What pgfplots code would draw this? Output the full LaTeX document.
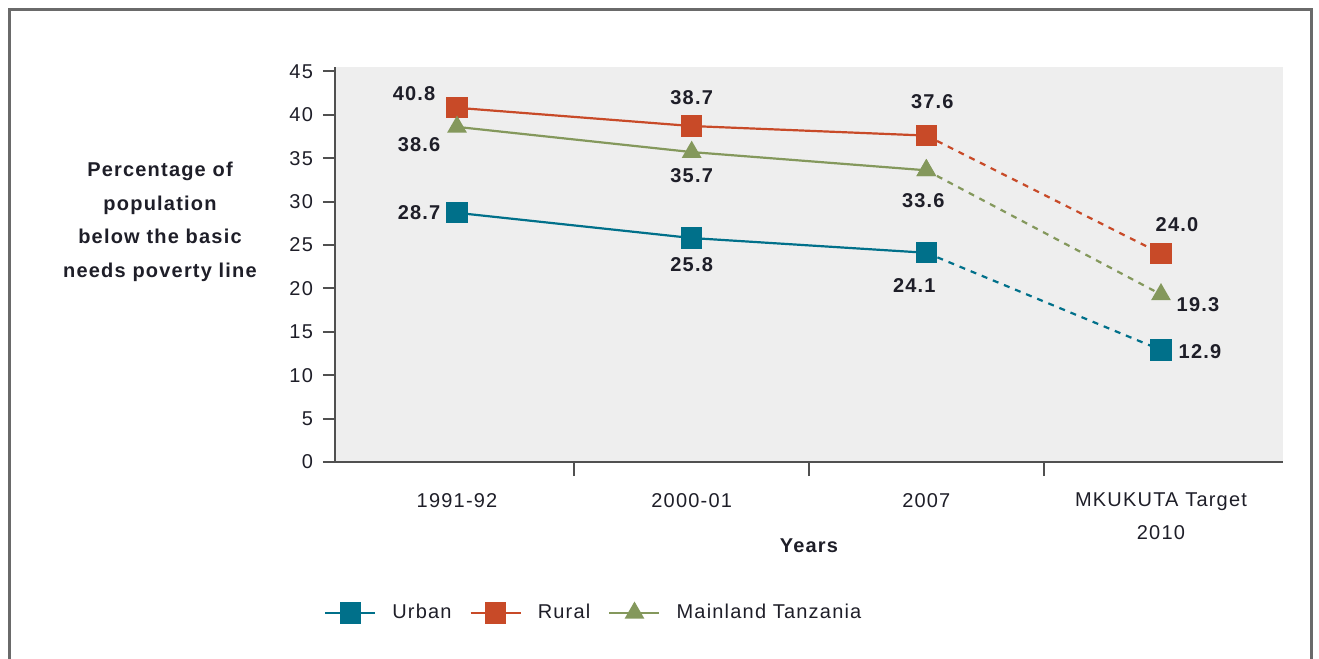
\documentclass[border=0pt]{standalone}
\usepackage{pgfplots}
\pgfplotsset{compat=1.18}
\usepackage{pgfplotstable}
\usepackage{fontspec}
\setmainfont{Liberation Sans}[LetterSpace=6]
\definecolor{urbanc}{RGB}{0,112,138}
\definecolor{ruralc}{RGB}{200,74,40}
\definecolor{mainc}{RGB}{132,152,92}
\definecolor{axgray}{RGB}{80,80,80}
\definecolor{bggray}{RGB}{238,238,238}
\definecolor{txt}{RGB}{30,30,40}
\pgfplotsset{/pgf/number format/assume math mode=true}

% x y dx dy (label offsets in pt)
\pgfplotstableread{
x y dx dy
0 28.7 -19 0
1 25.8 0 -13.5
2 24.1 -6 -16.5
3 12.9 19.5 -1
}\urban
\pgfplotstableread{
x y dx dy
0 40.8 -21.5 7.25
1 38.7 0 14
2 37.6 3 16.75
3 24.0 8 14.5
}\rural
\pgfplotstableread{
x y dx dy
0 38.6 -19 -8.75
1 35.7 0 -12
2 33.6 -1.5 -15.25
3 19.3 18.5 -5.25
}\mainland

\pgfplotsset{
  lbl/.style={draw=none, mark=none, forget plot,
    nodes near coords={\pgfmathprintnumber[fixed,fixed zerofill,precision=1]{\pgfplotspointmeta}},
    visualization depends on={\thisrow{dx}\as\dx},
    visualization depends on={\thisrow{dy}\as\dy},
    every node near coord/.append style={anchor=center, xshift=\dx pt, yshift=\dy pt,
      font=\fontsize{10}{12}\selectfont\bfseries, text=txt, inner sep=0pt}},
  sq/.style={mark=square*, mark size=4.75pt, mark options={solid}},
  tri/.style={mark=triangle*, mark size=4.6pt, mark options={solid}},
  dsh/.style={line width=1.1pt, dash pattern=on 3pt off 3pt, forget plot},
  sol/.style={line width=1.1pt, solid},
}

\begin{document}
\begin{tikzpicture}
\begin{axis}[
  name=ax,
  scale only axis,
  width=474pt, height=197.5pt,
  xmin=-0.52, xmax=3.52,
  ymin=0, ymax=45.5,
  axis x line*=bottom, axis y line*=left,
  axis line style={axgray, line width=1pt},
  axis background/.style={fill=bggray},
  tick align=outside,
  xtick={0,1,2,3},
  xticklabels={1991-92,2000-01,2007,{MKUKUTA Target\\2010}},
  major x tick style={draw=none},
  minor xtick={0.5,1.5,2.5},
  minor tick length=7pt,
  major tick length=6pt,
  tick style={axgray, line width=1pt},
  ytick={0,5,...,45},
  xticklabel style={align=center, font=\fontsize{10}{16.5}\selectfont, text=txt, yshift=-6pt},
  yticklabel style={font=\fontsize{10}{12}\selectfont, text=txt, xshift=-1.5pt},
  xlabel={Years},
  xlabel style={at={(axis description cs:0.5,-0.2127)}, anchor=center, font=\fontsize{10}{12}\selectfont\bfseries, text=txt},
  ylabel={Percentage of\\population\\below the basic\\needs poverty line},
  ylabel style={at={(axis description cs:-0.1846,0.6076)}, rotate=-90, anchor=center, align=center,
    font=\fontsize{10}{16.75}\selectfont\bfseries, text=txt},
  clip=false,
  legend style={at={(axis description cs:0.274,-0.382)}, anchor=center, draw=none, fill=none,
    legend columns=-1, font=\fontsize{10}{12}\selectfont, text=txt,
    /tikz/every odd column/.append style={column sep=6pt},
    /tikz/every even column/.append style={column sep=7pt}},
  legend image code/.code={\draw[mark repeat=2,mark phase=2] plot coordinates {(0pt,0pt) (12.5pt,0pt) (25pt,0pt)};},
]
% dashed projections to the 2010 target
\addplot[urbanc, dsh, sq] coordinates {(2,24.1) (3,12.9)};
\addplot[ruralc, dsh, sq] coordinates {(2,37.6) (3,24.0)};
\addplot[mainc, dsh, tri] coordinates {(2,33.6) (3,19.3)};
% observed series
\addplot[urbanc, sol, sq] coordinates {(0,28.7) (1,25.8) (2,24.1)};
\addlegendentry{Urban}
\addplot[ruralc, sol, sq] coordinates {(0,40.8) (1,38.7) (2,37.6)};
\addlegendentry{Rural}
\addplot[mainc, sol, tri] coordinates {(0,38.6) (1,35.7) (2,33.6)};
\addlegendentry{Mainland Tanzania}
% data labels
\addplot[lbl] table[x=x,y=y,meta=y] {\urban};
\addplot[lbl] table[x=x,y=y,meta=y] {\rural};
\addplot[lbl] table[x=x,y=y,meta=y] {\mainland};
\end{axis}
\draw[line width=1.5pt, color=axgray!85] ([xshift=-162.75pt,yshift=28.75pt]ax.north west)
  rectangle ([xshift=14pt,yshift=-120pt]ax.south east);
\pgfresetboundingbox
\useasboundingbox ([xshift=-167.5pt,yshift=33.5pt]ax.north west) rectangle ([xshift=18pt,yshift=-98pt]ax.south east);
\end{tikzpicture}
\end{document}
